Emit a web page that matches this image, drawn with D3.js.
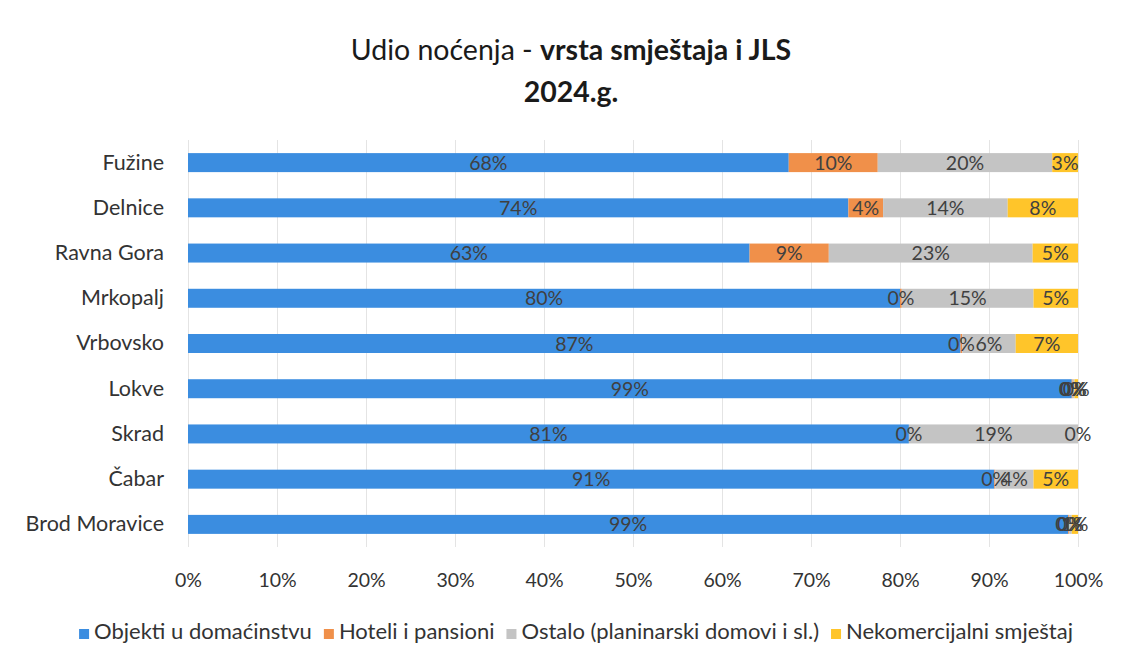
<!DOCTYPE html>
<html lang="hr">
<head>
<meta charset="UTF-8">
<title>Udio noćenja - vrsta smještaja i JLS 2024.g.</title>
<script src="https://d3js.org/d3.v7.min.js"></script>
<style>
  body { margin: 0; background: #fff; font-family: Lato, "Open Sans", sans-serif; }
  .grid line { stroke: #e4e4e4; }
  .grid path { display: none; }
  .axis path, .axis line { display: none; }
  .axis text { fill: #333; font-family: Lato, sans-serif; }
  .xaxis text { font-size: 19.5px; }
  .yaxis text { font-size: 21.5px; }
</style>
</head>
<body>
<div id="chart"></div>
<script>
// categories (top to bottom)
const places = ["Fužine", "Delnice", "Ravna Gora", "Mrkopalj", "Vrbovsko", "Lokve", "Skrad", "Čabar", "Brod Moravice"];
const seriesNames = ["Objekti u domaćinstvu", "Hoteli i pansioni", "Ostalo (planinarski domovi i sl.)", "Nekomercijalni smještaj"];
// shares in %
const objekti     = [67.5, 74.2, 63.1, 80.0, 86.8, 99.3, 81.0, 90.6, 98.9];
const hoteli      = [10.0,  3.9,  8.9,  0.2,  0.2,  0.1,  0.0,  0.1,  0.1];
const ostalo      = [19.6, 14.0, 22.9, 14.8,  6.0,  0.2, 19.0,  4.3,  0.3];
const nekomerc    = [ 2.9,  7.9,  5.1,  5.0,  7.0,  0.4,  0.0,  5.0,  0.7];
const xTicks = [0, 10, 20, 30, 40, 50, 60, 70, 80, 90, 100];

const colors = ["#3b8de0", "#f0904a", "#c4c4c4", "#ffc52a"];

const W = 1122, H = 662;
const margin = {top: 140, right: 44, bottom: 115, left: 188};
const width = W - margin.left - margin.right;
const height = H - margin.top - margin.bottom;

const svg = d3.select("#chart").append("svg")
  .attr("width", W).attr("height", H);

// title
const title = svg.append("text")
  .attr("x", W / 2 + 10).attr("y", 60)
  .attr("text-anchor", "middle")
  .style("font-size", "28.5px").style("fill", "#1a1a1a");
title.append("tspan").text("Udio noćenja - ");
title.append("tspan").style("font-weight", "bold").text("vrsta smještaja i JLS");
svg.append("text")
  .attr("x", W / 2 + 10).attr("y", 102)
  .attr("text-anchor", "middle")
  .style("font-size", "28.5px").style("font-weight", "bold").style("fill", "#1a1a1a")
  .text("2024.g.");

const g = svg.append("g").attr("transform", `translate(${margin.left},${margin.top})`);

const x = d3.scaleLinear().domain([0, 100]).range([0, width]);
const y = d3.scaleBand().domain(places).range([0, height]).paddingInner(0.58).paddingOuter(0.29);

// gridlines
g.append("g").attr("class", "grid")
  .call(d3.axisBottom(x).tickValues(xTicks).tickSize(height).tickFormat(""));

// x axis labels
g.append("g").attr("class", "axis xaxis")
  .attr("transform", `translate(0,${height + 5})`)
  .call(d3.axisBottom(x).tickValues(xTicks).tickSize(0).tickPadding(21).tickFormat(d => d + "%"));

// y axis labels
g.append("g").attr("class", "axis yaxis")
  .call(d3.axisLeft(y).tickSize(0).tickPadding(24));

const rows = places.map((p, i) => ({place: p, vals: [objekti[i], hoteli[i], ostalo[i], nekomerc[i]]}));
const stack = d3.stack().keys([0, 1, 2, 3]).value((d, k) => d.vals[k]);
const layers = stack(rows);

const layerG = g.selectAll(".layer").data(layers).enter().append("g")
  .attr("fill", (d, i) => colors[i]);

layerG.selectAll("rect").data(d => d).enter().append("rect")
  .attr("x", d => x(d[0]))
  .attr("y", d => y(d.data.place))
  .attr("width", d => x(d[1]) - x(d[0]))
  .attr("height", y.bandwidth());

// data labels
layers.forEach((layer, k) => {
  g.selectAll(".lbl" + k).data(layer).enter().append("text")
    .attr("x", d => x((d[0] + d[1]) / 2))
    .attr("y", d => y(d.data.place) + y.bandwidth() / 2)
    .attr("dy", "0.36em")
    .attr("text-anchor", "middle")
    .style("font-size", "19.5px")
    .style("fill", "#404040")
    .text(d => Math.round(d.data.vals[k]) + "%");
});

// legend
const legend = svg.append("g").attr("transform", `translate(0,639)`);
const items = legend.selectAll("g").data(seriesNames).enter().append("g");
items.append("rect").attr("width", 10).attr("height", 10).attr("y", -10)
  .attr("fill", (d, i) => colors[i]);
items.append("text").attr("x", 15).attr("y", 0)
  .style("font-size", "22px").style("fill", "#333").text(d => d);
const widths = [];
items.each(function() { widths.push(this.getBBox().width); });
const total = d3.sum(widths) + 12 * (widths.length - 1);
let pos = (W - total) / 2 + 15;
items.attr("transform", (d, i) => {
  const t = `translate(${pos},0)`;
  pos += widths[i] + 12;
  return t;
});
</script>
</body>
</html>
